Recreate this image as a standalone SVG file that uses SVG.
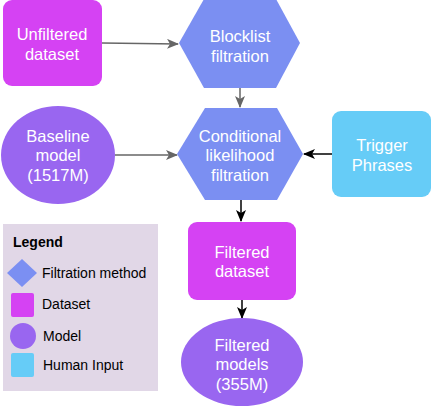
<svg xmlns="http://www.w3.org/2000/svg" width="432" height="406" viewBox="0 0 432 406">
<defs>
<marker id="ag" viewBox="0 0 12 10" refX="11" refY="5" markerWidth="12" markerHeight="10" markerUnits="userSpaceOnUse" orient="auto">
<path d="M0,0 L12,5 L0,10 L3,5 Z" fill="#666666"/>
</marker>
<marker id="ab" viewBox="0 0 12 10" refX="11" refY="5" markerWidth="12" markerHeight="10" markerUnits="userSpaceOnUse" orient="auto">
<path d="M0,0 L12,5 L0,10 L3,5 Z" fill="#000000"/>
</marker>
<style>
.t{font-family:"Liberation Sans",Arial,Helvetica,sans-serif;font-size:16.5px;fill:#ffffff;text-anchor:middle}
.l{font-family:"Liberation Sans",Arial,Helvetica,sans-serif;font-size:14px;fill:#000000}
.ds{fill:#d542f3}
.fm{fill:#7b8ff2}
.md{fill:#9966f0}
.hi{fill:#66ccf7}
.cg{stroke:#666666;stroke-width:1.5;fill:none;marker-end:url(#ag)}
.cb{stroke:#000000;stroke-width:1.5;fill:none;marker-end:url(#ab)}
</style>
</defs>
<rect width="432" height="406" fill="#ffffff"/>
<g id="connectors">
<path class="cg" d="M102,43 L178,44"/>
<path class="cg" d="M240,88 L240,107"/>
<path class="cg" d="M115,155 L177,155"/>
<path class="cb" d="M332,154 L304,154"/>
<path class="cb" d="M241,200 L241,221"/>
<path class="cb" d="M242,300 L242,318"/>
</g>
<g id="unfiltered-dataset">
<rect class="ds" x="3" y="0" width="99" height="86" rx="9"/>
<text class="t" x="52" y="40">Unfiltered</text>
<text class="t" x="52" y="60">dataset</text>
</g>
<g id="blocklist-filtration">
<polygon class="fm" points="179,43 204,-1 276,-1 300,43 276,88 204,88"/>
<text class="t" x="240" y="42">Blocklist</text>
<text class="t" x="240" y="62">filtration</text>
</g>
<g id="baseline-model">
<ellipse class="md" cx="58" cy="155" rx="57" ry="49"/>
<text class="t" x="58" y="142">Baseline</text>
<text class="t" x="58" y="161">model</text>
<text class="t" x="58" y="181">(1517M)</text>
</g>
<g id="conditional-filtration">
<polygon class="fm" points="177,154 205,108 277,108 303,154 277,200 205,200"/>
<text class="t" x="240" y="142">Conditional</text>
<text class="t" x="240" y="161">likelihood</text>
<text class="t" x="240" y="181">filtration</text>
</g>
<g id="trigger-phrases">
<rect class="hi" x="332" y="111" width="99" height="86" rx="9"/>
<text class="t" x="382" y="151">Trigger</text>
<text class="t" x="382" y="171">Phrases</text>
</g>
<g id="filtered-dataset">
<rect class="ds" x="188" y="222" width="108" height="78" rx="9"/>
<text class="t" x="242" y="258">Filtered</text>
<text class="t" x="242" y="277">dataset</text>
</g>
<g id="filtered-models">
<ellipse class="md" cx="242" cy="362" rx="61" ry="44"/>
<text class="t" x="242" y="351">Filtered</text>
<text class="t" x="242" y="370">models</text>
<text class="t" x="242" y="390">(355M)</text>
</g>
<g id="legend">
<rect x="3" y="224" width="155" height="167" fill="#e1d7e7"/>
<text class="l" x="13" y="247" font-weight="bold">Legend</text>
<polygon class="fm" points="7,273 22,259 37,273 22,287"/>
<text class="l" x="42" y="278">Filtration method</text>
<rect class="ds" x="11" y="293" width="23" height="24" rx="2"/>
<text class="l" x="42" y="309">Dataset</text>
<circle class="md" cx="23" cy="336" r="13"/>
<text class="l" x="43" y="341">Model</text>
<rect class="hi" x="11" y="353" width="23" height="24" rx="2"/>
<text class="l" x="43" y="370">Human Input</text>
</g>
</svg>
